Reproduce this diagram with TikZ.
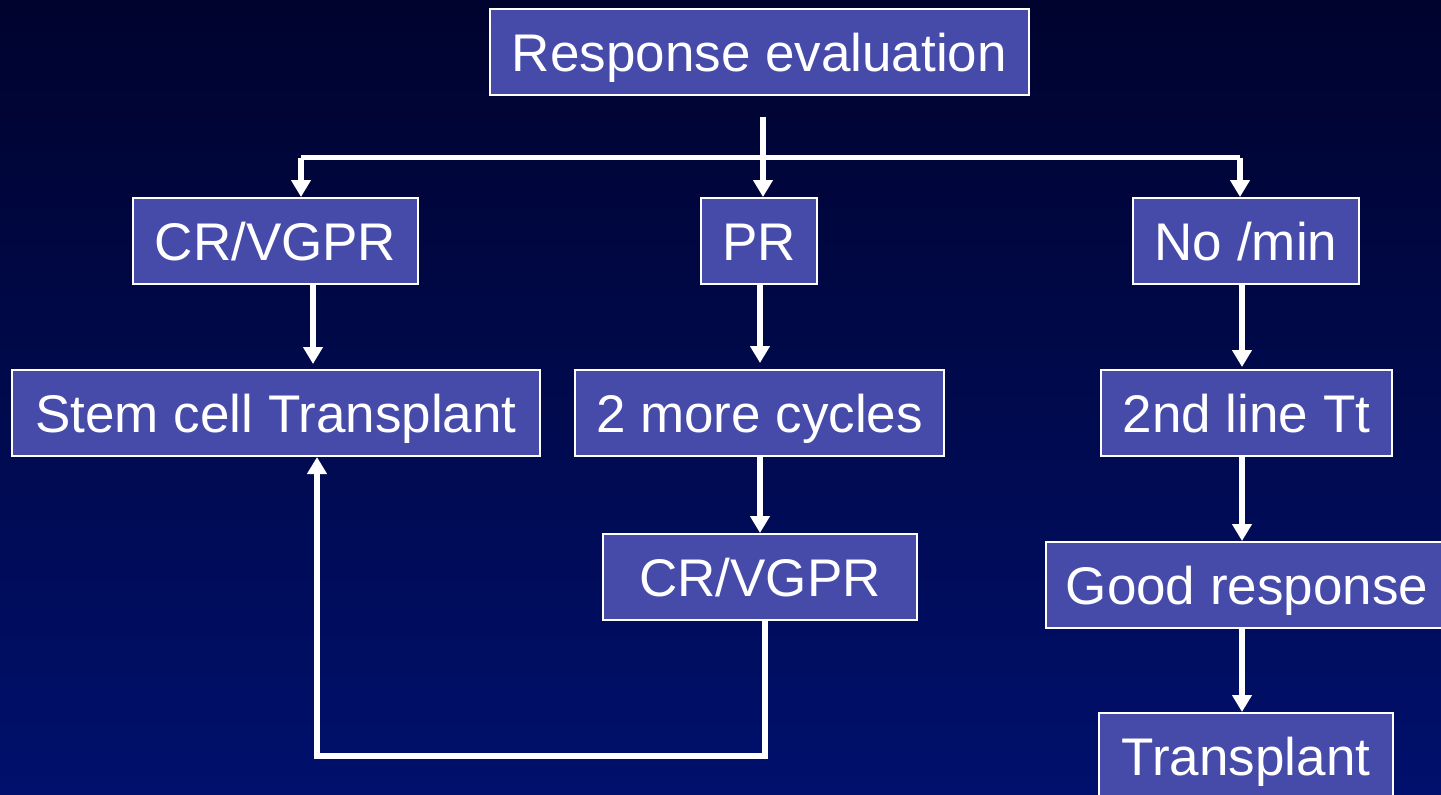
\documentclass[tikz,border=0pt]{standalone}
\usepackage{fontspec}
\setmainfont{Liberation Sans}
\usetikzlibrary{arrows.meta}
\definecolor{bgtop}{RGB}{0,3,45}
\definecolor{bgbot}{RGB}{0,16,108}
\definecolor{boxfill}{RGB}{70,75,170}
\tikzset{
  box/.style={draw=white, line width=1pt, fill=boxfill, text=white, inner sep=0pt,
    minimum height=43pt, text height=19pt, text depth=0pt,
    font=\fontsize{26.5}{30}\selectfont},
  conn/.style={draw=white, line width=2.6pt},
  arr/.style={conn, -{Triangle[width=9.5pt,length=8.5pt]}},
}
\begin{document}
\begin{tikzpicture}[x=0.5pt,y=-0.5pt]
\useasboundingbox (0,0) rectangle (1441,794);
\shade[top color=bgtop, bottom color=bgbot] (0,0) rectangle (1441,794);

\node[box, minimum width=269.5pt] (rev) at (759.5,52) {Response evaluation};
\node[box, minimum width=142.5pt] (crl) at (275.5,241) {CR/VGPR};
\node[box, minimum width=58pt] (pr) at (759,241) {PR};
\node[box, minimum width=113pt] (nomin) at (1246,241) {No /min};
\node[box, minimum width=264pt] (stem) at (276,413) {Stem cell Transplant};
\node[box, minimum width=184.5pt] (more) at (759.5,413) {2 more cycles};
\node[box, minimum width=145.5pt] (second) at (1246.5,413) {2nd line Tt};
\node[box, minimum width=157pt] (cr2) at (760,577) {CR/VGPR};
\node[box, minimum width=201pt] (good) at (1247,585) {Good response};
\node[box, minimum width=147pt] (trans) at (1246,756) {Transplant};

\coordinate (top) at (763,117);
\coordinate (hl) at (301,157.5);
\coordinate (hr) at (1240,157.5);
\coordinate (a1) at (313,0);
\coordinate (a2) at (760,0);
\coordinate (a3) at (1242,0);
\coordinate (loopr) at (765,756);
\coordinate (loopl) at (317,756);

\draw[conn] (hl) -- (hr);
\draw[arr] (top) -- (top |- pr.north);
\draw[arr] (hl) -- (hl |- crl.north);
\draw[arr] (hr) -- (hr |- nomin.north);

\draw[arr, shorten >=2.5pt] (crl.south -| a1) -- (stem.north -| a1);
\draw[arr, shorten >=3pt] (pr.south -| a2) -- (more.north -| a2);
\draw[arr, shorten >=1pt] (nomin.south -| a3) -- (second.north -| a3);
\draw[arr] (more.south -| a2) -- (cr2.north -| a2);
\draw[arr] (second.south -| a3) -- (good.north -| a3);
\draw[arr] (good.south -| a3) -- (trans.north -| a3);

\draw[arr, line join=miter] (cr2.south -| loopr) -- (loopr) -- (loopl) -- (stem.south -| loopl);
\end{tikzpicture}
\end{document}
